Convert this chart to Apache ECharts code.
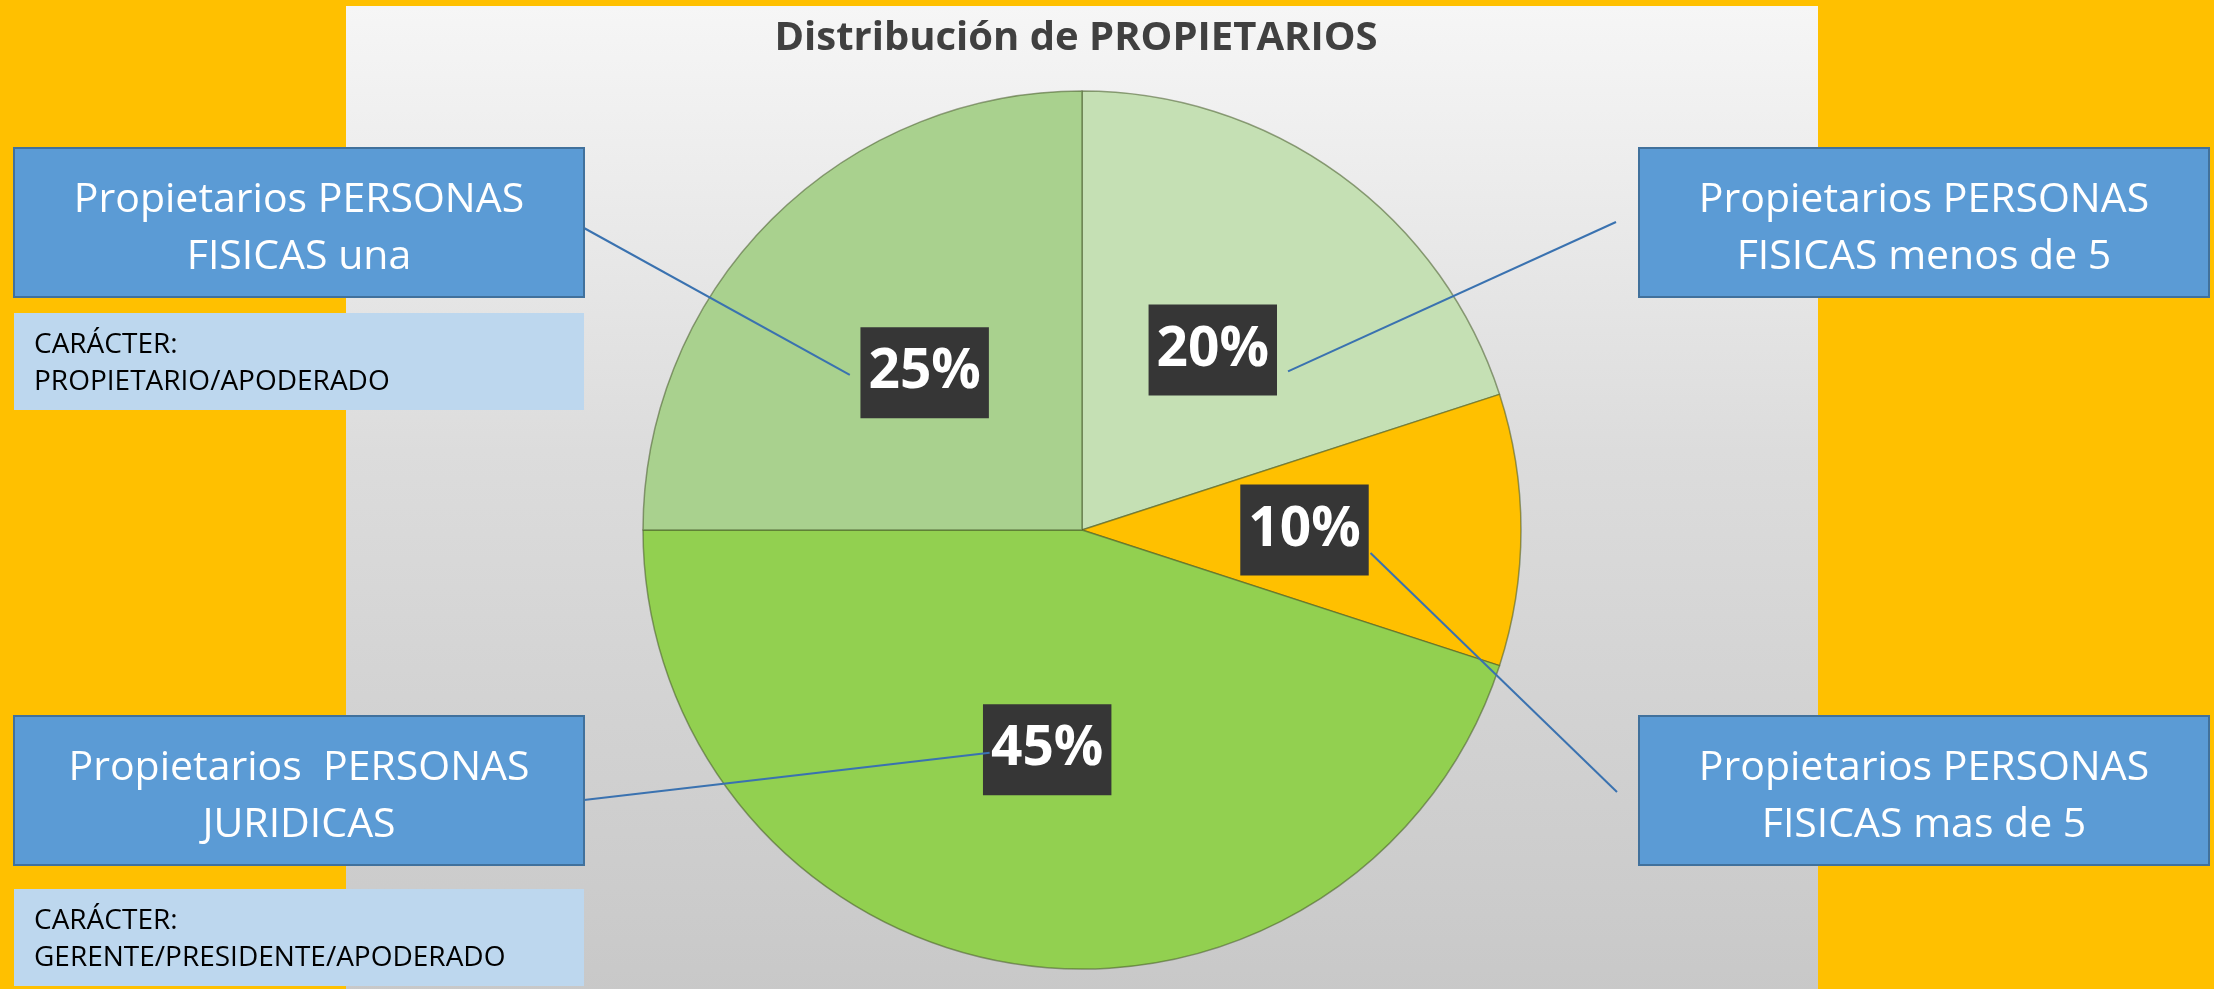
<!DOCTYPE html>
<html>
<head>
    <meta charset="UTF-8">
    <title>Distribución de PROPIETARIOS</title>
    <script src="https://cdn.jsdelivr.net/npm/echarts/dist/echarts.min.js"></script>
    <style>
        html, body { margin: 0; padding: 0; background: #FFC000; }
        #main { width: 2214px; height: 989px; }
    </style>
</head>
<body>
<div id="main"></div>

<script>
    // datos (sentido horario desde las 12)
    var categories = ['FISICAS menos de 5', 'FISICAS mas de 5', 'JURIDICAS', 'FISICAS una'];
    var shares = [20, 10, 45, 25];

    // textos de los recuadros
    var boxTexts = [
        'Propietarios PERSONAS\nFISICAS menos de 5',
        'Propietarios PERSONAS\nFISICAS mas de 5',
        'Propietarios  PERSONAS\nJURIDICAS',
        'Propietarios PERSONAS\nFISICAS una'
    ];
    var caracterTexts = ['CARÁCTER:\nPROPIETARIO/APODERADO', 'CARÁCTER:\nGERENTE/PRESIDENTE/APODERADO'];

    var sliceColors = ['#C5E0B4', '#FFC000', '#92D050', '#A9D18E'];

    // posicion de cada recuadro azul y punta de la linea guia
    var boxPos = [
        {x: 1639, y: 148, lineFrom: [1616, 222], off: [77, 19]},
        {x: 1639, y: 716, lineFrom: [1617, 792], off: [69, 23]},
        {x: 14, y: 716, lineFrom: [584, 800], off: [-58, 6]},
        {x: 14, y: 148, lineFrom: [584, 228], off: [-77, 0]}
    ];
    var notePos = [{x: 14, y: 313}, {x: 14, y: 889}];

    var font = '"Open Sans", "Noto Sans", sans-serif';

    function baseGraphics() {
        var els = [];
        // panel gris del grafico
        els.push({
            type: 'rect', z: -10,
            shape: {x: 346, y: 6, width: 1472, height: 990},
            style: {
                fill: {
                    type: 'linear', x: 0, y: 0, x2: 0, y2: 1,
                    colorStops: [
                        {offset: 0, color: '#F6F6F6'},
                        {offset: 0.45, color: '#DCDCDC'},
                        {offset: 1, color: '#C8C8C8'}
                    ]
                }
            }
        });
        els.push({
            type: 'text', z: 10, x: 1076, y: 39,
            style: {
                text: 'Distribución de PROPIETARIOS',
                fill: '#404040', font: 'bold 40px ' + font,
                textAlign: 'center', textVerticalAlign: 'middle'
            }
        });
        boxPos.forEach(function (b, i) {
            els.push({
                type: 'rect', z: 100,
                shape: {x: b.x, y: b.y, width: 570, height: 149},
                style: {fill: '#5B9BD5', stroke: '#41719C', lineWidth: 2}
            });
            els.push({
                type: 'text', z: 101, x: b.x + 285, y: b.y + 81,
                style: {
                    text: boxTexts[i], fill: '#FFFFFF', font: '41px ' + font,
                    lineHeight: 57, textAlign: 'center', textVerticalAlign: 'middle'
                }
            });
        });
        notePos.forEach(function (n, i) {
            els.push({
                type: 'rect', z: 100,
                shape: {x: n.x, y: n.y, width: 570, height: 97},
                style: {fill: '#BDD7EE'}
            });
            els.push({
                type: 'text', z: 101, x: n.x + 20, y: n.y + 51,
                style: {
                    text: caracterTexts[i], fill: '#000000', font: '28px ' + font,
                    lineHeight: 37, textAlign: 'left', textVerticalAlign: 'middle'
                }
            });
        });
        return els;
    }

    var myChart = echarts.init(document.getElementById('main'));
    var option = {
        backgroundColor: '#FFC000',
        animation: false,
        graphic: {elements: baseGraphics()},
        series: [{
            type: 'pie',
            center: [1082, 530],
            radius: 439,
            startAngle: 90,
            clockwise: true,
            avoidLabelOverlap: false,
            emphasis: {disabled: true},
            itemStyle: {borderColor: 'rgba(70,90,40,0.55)', borderWidth: 1.5},
            label: {
                show: true,
                position: 'inside',
                formatter: '{c}%',
                color: '#FFFFFF',
                fontFamily: font,
                fontWeight: 'bold',
                fontSize: 55,
                lineHeight: 66,
                backgroundColor: '#363636',
                padding: [19, 8, 6, 8]
            },
            labelLine: {show: false},
            data: categories.map(function (c, i) {
                return {name: c, value: shares[i], itemStyle: {color: sliceColors[i]}};
            })
        }]
    };
    myChart.setOption(option);

    // lineas guia desde los recuadros hasta la etiqueta de cada porcion
    var pieData = myChart.getModel().getSeriesByIndex(0).getData();
    var lines = [];
    boxPos.forEach(function (b, i) {
        var lay = pieData.getItemLayout(i);
        var mid = (lay.startAngle + lay.endAngle) / 2;
        var rr = (lay.r + (lay.r0 || 0)) / 2;
        var lx = lay.cx + rr * Math.cos(mid);
        var ly = lay.cy + rr * Math.sin(mid);
        lines.push({
            type: 'line', z: 50,
            shape: {x1: b.lineFrom[0], y1: b.lineFrom[1], x2: lx + b.off[0], y2: ly + b.off[1]},
            style: {stroke: '#3A72B0', lineWidth: 2}
        });
    });
    myChart.setOption({graphic: {elements: baseGraphics().concat(lines)}}, {replaceMerge: ['graphic']});
</script>
</body>
</html>
